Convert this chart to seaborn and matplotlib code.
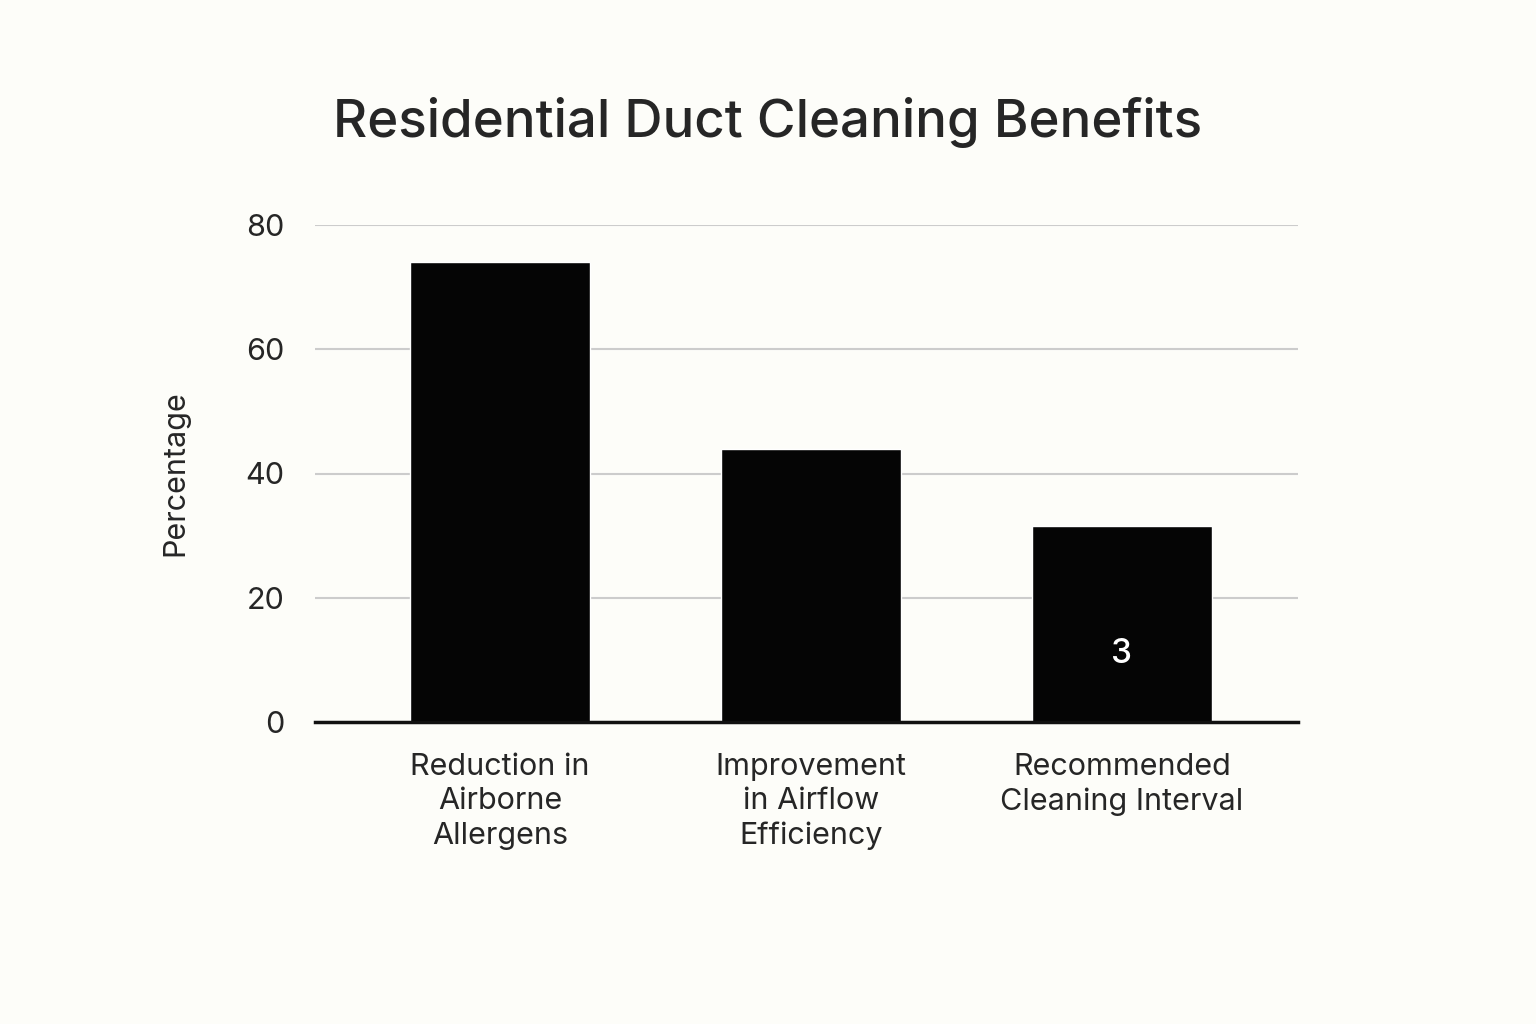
import matplotlib
matplotlib.use("Agg")
import matplotlib.pyplot as plt
import seaborn as sns
import pandas as pd

categories = ["Reduction in\nAirborne\nAllergens", "Improvement\nin Airflow\nEfficiency", "Recommended\nCleaning Interval"]
values = [74, 44, 31.5]
bar_labels = ["", "", "3"]
yticks = [0, 20, 40, 60, 80]

sns.set_theme(style="white")
plt.rcParams['font.family'] = ['Inter', 'DejaVu Sans']
bg = "#FDFDF9"
fig = plt.figure(figsize=(15.36, 10.24), dpi=100, facecolor=bg)
ax = fig.add_axes([315/1536, 1-722/1024, (1298-315)/1536, (722-225)/1024])
ax.set_facecolor(bg)
df = pd.DataFrame({"cat": categories, "val": values})
sns.barplot(data=df, x="cat", y="val", color="#050505", width=0.58, ax=ax, saturation=1, zorder=3)
for i, (v, t) in enumerate(zip(values, bar_labels)):
    if t:
        ax.text(i, 11, t, color="white", ha="center", va="center", fontsize=24, fontweight="medium", zorder=4)
ax.set_xlim(-0.595, 2.566)
ax.set_ylim(0, 80)
ax.set_yticks(yticks)
ax.yaxis.grid(True, color="#CCCCCC", linewidth=1.5, zorder=0)
for s in ["top", "right", "left"]:
    ax.spines[s].set_visible(False)
ax.spines["bottom"].set_color("#111111")
ax.spines["bottom"].set_linewidth(2.5)
ax.spines["bottom"].set_zorder(5)
ax.tick_params(axis="y", labelsize=22, length=0, pad=22)
ax.tick_params(axis="x", labelsize=22, length=0, pad=22)
ax.set_xlabel("")
ax.set_ylabel("Percentage", fontsize=22, labelpad=40)
for lbl in ax.get_xticklabels():
    lbl.set_linespacing(1.3)
fig.text(768/1536, 1-122/1024, "Residential Duct Cleaning Benefits", ha="center", va="center", fontsize=38, fontweight="medium")
fig.savefig("out.png", dpi=100, facecolor=bg)
